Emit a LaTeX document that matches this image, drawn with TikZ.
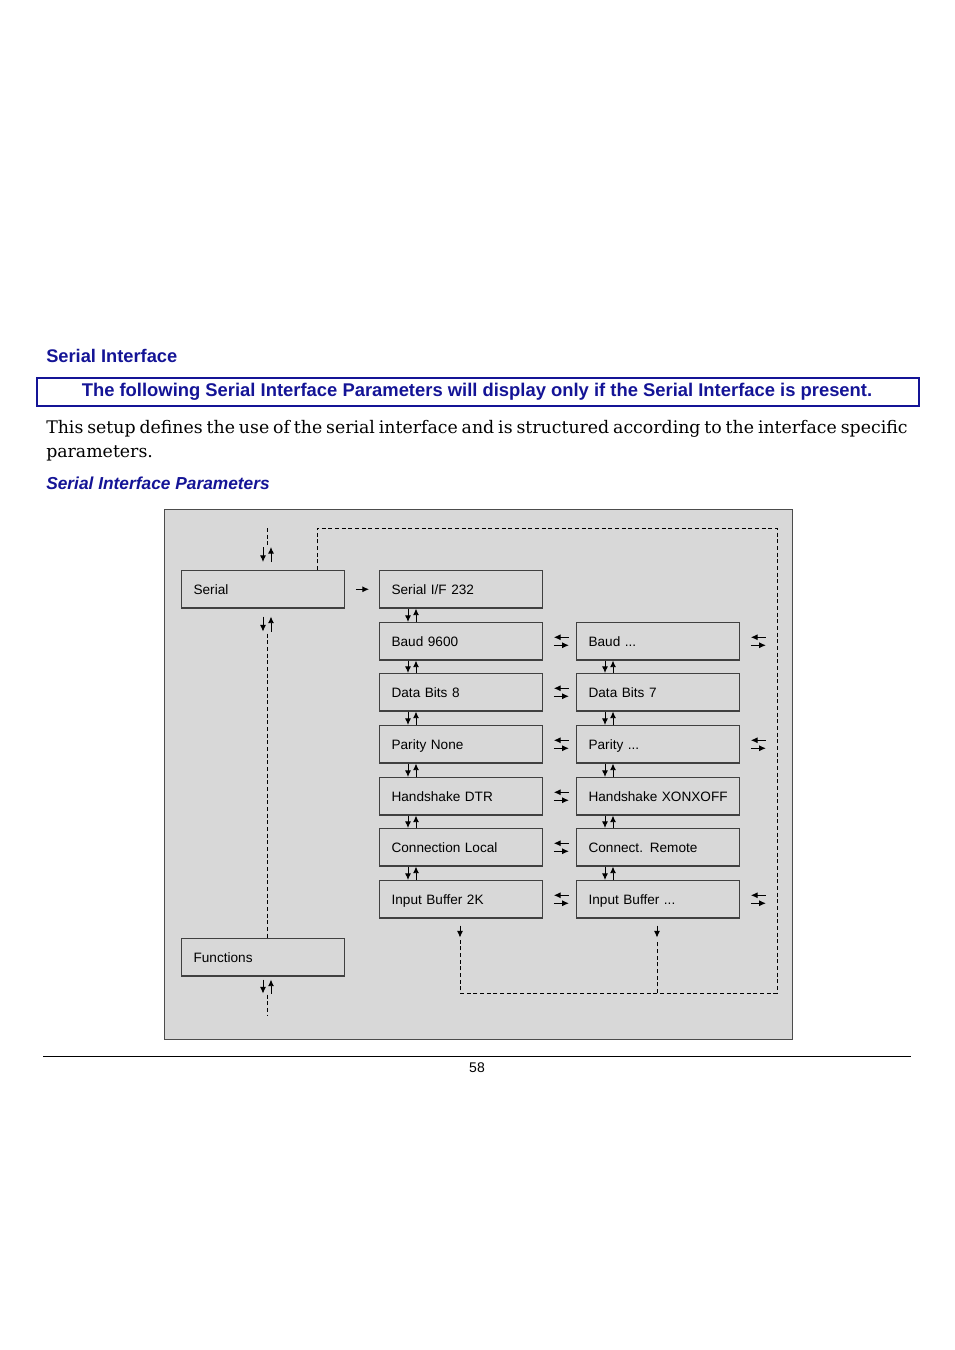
\documentclass[tikz,border=0pt]{standalone}
\usepackage{fontspec}
\setmainfont{DejaVu Serif}
\newfontfamily\arial{Liberation Sans}
\usetikzlibrary{arrows.meta,calc}
\definecolor{navy}{RGB}{20,20,150}
\definecolor{panel}{RGB}{216,216,216}
\newcommand\mydots{...}
\begin{document}
\begin{tikzpicture}[x=0.75pt,y=-0.75pt,
  box/.style={draw=black!75,line width=0.9pt,minimum width=122pt,minimum height=28pt,anchor=north west,
    font=\arial\fontsize{10.2}{12}\selectfont,text width=120pt,align=left,inner sep=0pt,
    text depth=0pt},
  dl/.style={densely dashed,line width=0.6pt},
  ar/.style={-{Latex[length=5pt,width=4.5pt]},line width=0.7pt}]
\useasboundingbox (0,0) rectangle (954,1350);
\node[anchor=west,font=\arial\bfseries\fontsize{13.7}{16}\selectfont,text=navy,inner sep=0pt] (h1) at (46,356) {Serial Interface};
\draw[navy,line width=1.5pt] (37,378) rectangle (919,406);
\node[font=\arial\bfseries\fontsize{13.8}{16}\selectfont,text=navy,inner sep=0pt] (h2) at (477,392) {The following Serial Interface Parameters will display only if the Serial Interface is present.};
\node[anchor=north west,text width=646pt,align=justify,inner sep=0pt,font=\fontsize{13}{18}\selectfont] (body) at (46,420) {This setup defines the use of the serial interface and is structured according to the interface specific parameters.};
\node[anchor=west,font=\arial\bfseries\itshape\fontsize{13}{15}\selectfont,text=navy,inner sep=0pt] (h3) at (46,483) {Serial Interface Parameters};
\draw[fill=panel,draw=black!70,line width=0.7pt] (164,509) rectangle (792,1039);
% boxes
\node[box] (serial) at (181,570) {\hspace*{8pt}Serial};
\node[box] (func) at (181,938) {\hspace*{8pt}Functions};
\node[box] (a0) at (379,570) {\hspace*{8pt}Serial I/F 232};
\foreach \n/\y/\t/\u in {1/622/Baud 9600/Baud \mydots,2/673/Data Bits 8/Data Bits 7,3/725/Parity None/Parity \mydots,4/777/Handshake DTR/Handshake XONXOFF,5/828/Connection Local/Connect. Remote,6/880/Input Buffer 2K/Input Buffer \mydots}{
  \node[box] (a\n) at (379,\y) {\hspace*{8pt}\t};
  \node[box] (b\n) at (576,\y) {\hspace*{8pt}\u};
}
% vertical arrow pairs
\foreach \p/\q in {a0/a1,a1/a2,a2/a3,a3/a4,a4/a5,a5/a6,b1/b2,b2/b3,b3/b4,b4/b5,b5/b6}{
  \draw[ar] ($(\p.south west)+(29,0)$) -- ($(\q.north west)+(29,0)$);
  \draw[ar] ($(\q.north west)+(37,0)$) -- ($(\p.south west)+(37,0)$);
}
% horizontal pairs between columns
\foreach \n in {1,2,3,4,5,6}{
  \draw[ar] ($(a\n.east)+(26,-4)$) -- ($(a\n.east)+(11,-4)$);
  \draw[ar] ($(a\n.east)+(11,4)$) -- ($(a\n.east)+(26,4)$);
}
\foreach \n in {1,3,6}{
  \draw[ar] ($(b\n.east)+(26,-4)$) -- ($(b\n.east)+(11,-4)$);
  \draw[ar] ($(b\n.east)+(11,4)$) -- ($(b\n.east)+(26,4)$);
}
\draw[ar] ($(serial.east)+(11,0)$) -- ($(a0.west)+(-10,0)$);
% left column
\coordinate (ltop) at (267,528);
\draw[dl] (ltop) -- ++(0,18);
\draw[ar] ($(serial.north west)+(82,-23)$) -- ($(serial.north west)+(82,-8)$);
\draw[ar] ($(serial.north west)+(90,-8)$) -- ($(serial.north west)+(90,-23)$);
\draw[ar] ($(serial.south west)+(82,8)$) -- ($(serial.south west)+(82,23)$);
\draw[ar] ($(serial.south west)+(90,23)$) -- ($(serial.south west)+(90,8)$);
\draw[dl] ($(serial.south west)+(86,25)$) -- ($(func.north west)+(86,0)$);
\draw[ar] ($(func.south west)+(82,3)$) -- ($(func.south west)+(82,17)$);
\draw[ar] ($(func.south west)+(90,17)$) -- ($(func.south west)+(90,3)$);
\coordinate (lbot) at (267,1015);
\draw[dl] ($(func.south west)+(86,18)$) -- (lbot);
% loop back
\coordinate (c1) at (317,528);
\coordinate (c2) at (777,528);
\coordinate (c3) at (777,993);
\coordinate (c4) at (460,993);
\coordinate (c5) at (657,993);
\draw[dl] (serial.north west -| c1) -- (c1) -- (c2) -- (c3) -- (c4) -- (460,940);
\draw[dl] (c5) -- (657,940);
\draw[ar] ($(a6.south west)+(81,7)$) -- ($(a6.south west)+(81,19)$);
\draw[ar] ($(b6.south west)+(81,7)$) -- ($(b6.south west)+(81,19)$);
% footer
\draw[line width=0.6pt] (43,1056) -- (911,1056);
\node[font=\arial\fontsize{10.5}{12}\selectfont,inner sep=0pt] (pg) at (477,1068) {58};
\end{tikzpicture}
\end{document}
